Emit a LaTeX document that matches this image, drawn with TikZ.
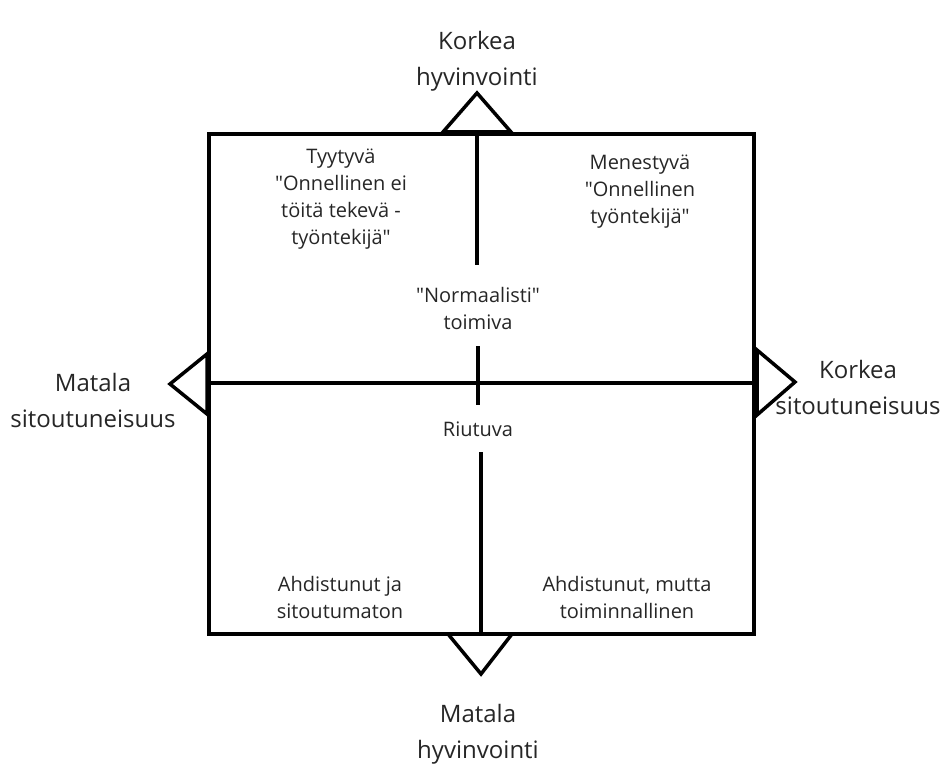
\documentclass[tikz,border=0pt]{standalone}
\usepackage{fontspec}
\setmainfont{Open Sans}[Ligatures=TeXOff]
\begin{document}
\begin{tikzpicture}[x=1pt,y=-1pt,
  small/.style={align=center,font=\fontsize{20}{27}\selectfont,text=black!85,inner sep=0pt},
  big/.style={align=center,font=\fontsize{24}{36}\selectfont,text=black!85,inner sep=0pt},
  axis/.style={line width=4pt,black},
  tri/.style={line width=3.5pt,fill=white,line join=miter}]
\useasboundingbox (0,0) rectangle (946,765);
% triangles
\draw[tri] (443,132) -- (477,93) -- (511,132) -- cycle;
\draw[tri] (448,634) -- (481,674) -- (512,634) -- cycle;
\draw[tri] (207,354) -- (170,384) -- (207,414) -- cycle;
\draw[tri] (757,350) -- (795,382) -- (757,415) -- cycle;
% square
\draw[axis] (209,134) rectangle (754,634);
% axes
\draw[axis] (209,383) -- (752,383);
\draw[axis] (477,134) -- (477,265);
\draw[axis] (478,346) -- (478,405);
\draw[axis] (481,452) -- (481,634);
% texts
\node[big] (top) at (477,61) {Korkea\\hyvinvointi};
\node[big] (bottom) at (478,734) {Matala\\hyvinvointi};
\node[big] (left) at (93,400) {Matala\\sitoutuneisuus};
\node[big] (right) at (858,387) {Korkea\\sitoutuneisuus};
\node[small] (tl) at (341,199) {Tyytyvä\\"Onnellinen ei\\töitä tekevä -\\työntekijä"};
\node[small] (tr) at (640,192) {Menestyvä\\"Onnellinen\\työntekijä"};
\node[small] (mid) at (478,308) {"Normaalisti"\\toimiva};
\node[small] (riu) at (478,429) {Riutuva};
\node[small] (bl) at (340,597) {Ahdistunut ja\\sitoutumaton};
\node[small] (br) at (627,597) {Ahdistunut, mutta\\toiminnallinen};
\end{tikzpicture}
\end{document}
